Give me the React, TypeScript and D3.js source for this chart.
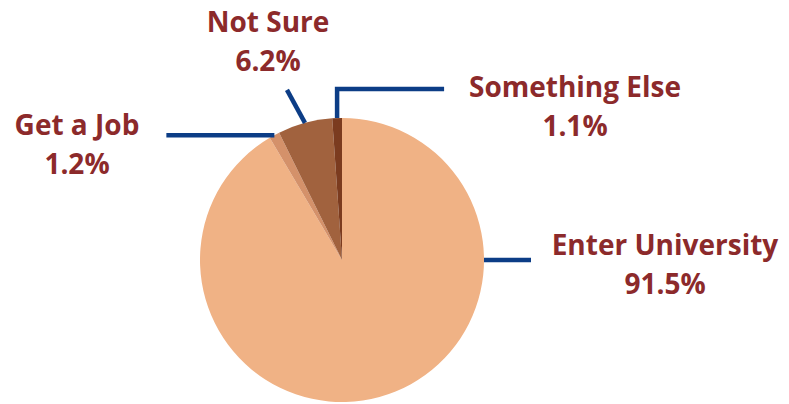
import * as d3 from "d3";

const CATEGORIES = ["Enter University", "Get a Job", "Not Sure", "Something Else"];
const VALUES = [91.5, 1.2, 6.2, 1.1];
const LABELS = ["91.5%", "1.2%", "6.2%", "1.1%"];
const COLORS = ["#F0B285", "#D4916A", "#A1623E", "#7B3B1F"];

const W = 789;
const H = 404;
const CX = 342;
const CY = 260;
const R = 142;

const LINE_COLOR = "#0C3D86";
const TEXT_COLOR = "#8C2A2B";
const FONT = "'Open Sans', 'DejaVu Sans', sans-serif";

// where each leader line leaves the pie (angle override), its path offsets, and label placement
const LEADERS: {
  angle?: number;
  steps: [number, number][];
  label: [number, number];
}[] = [
  { angle: Math.PI / 2, steps: [[47, 0]], label: [665, 255] },
  { steps: [[-108, 0]], label: [77, 135] },
  { steps: [[-18, -33]], label: [268, 32] },
  { steps: [[0, -29], [107, 0]], label: [575, 97] },
];

export default function App() {
  const pie = d3
    .pie<number>()
    .sort(null)
    .value((d) => d)
    .startAngle(0)
    .endAngle(2 * Math.PI);
  const arcs = pie(VALUES);
  const arc = d3.arc<d3.PieArcDatum<number>>().innerRadius(0).outerRadius(R);

  return (
    <svg
      width={W}
      height={H}
      style={{ position: "absolute", left: 0, top: 0, background: "#fff" }}
    >
      <g transform={`translate(${CX},${CY})`}>
        {arcs.map((a, i) => (
          <path key={CATEGORIES[i]} d={arc(a) ?? ""} fill={COLORS[i]} />
        ))}
      </g>
      {arcs.map((a, i) => {
        const spec = LEADERS[i];
        const ang = spec.angle ?? (a.startAngle + a.endAngle) / 2;
        let x = CX + R * Math.sin(ang);
        let y = CY - R * Math.cos(ang);
        const pts: [number, number][] = [[x, y]];
        spec.steps.forEach(([dx, dy]) => {
          x += dx;
          y += dy;
          pts.push([x, y]);
        });
        return (
          <path
            key={"l" + i}
            d={d3.line()(pts) ?? ""}
            fill="none"
            stroke={LINE_COLOR}
            strokeWidth={4.5}
          />
        );
      })}
      {CATEGORIES.map((c, i) => {
        const [lx, ly] = LEADERS[i].label;
        return (
          <text
            key={"t" + i}
            x={lx}
            y={ly}
            textAnchor="middle"
            fill={TEXT_COLOR}
            fontFamily={FONT}
            fontWeight={700}
            fontSize={28}
          >
            <tspan x={lx}>{c}</tspan>
            <tspan x={lx} dy={38.5}>
              {LABELS[i]}
            </tspan>
          </text>
        );
      })}
    </svg>
  );
}
